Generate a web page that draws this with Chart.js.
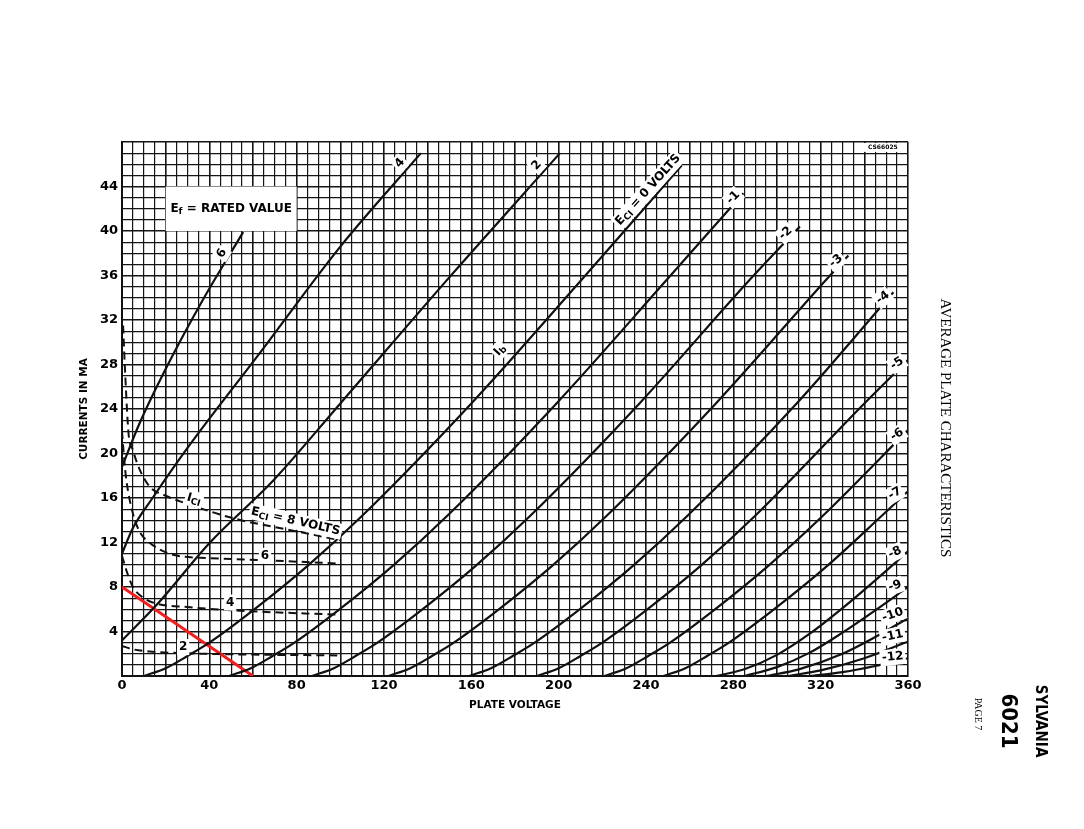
<!DOCTYPE html>
<html>
<head>
<meta charset="utf-8">
<script src="https://cdn.jsdelivr.net/npm/chart.js@4.4.1/dist/chart.umd.min.js"></script>
<style>
  html, body { margin: 0; padding: 0; background: #fff; }
</style>
</head>
<body>
<canvas id="plate" width="1084" height="829"></canvas>
<script>
// plate current (mA) against plate voltage, one curve per grid voltage Ec1
const ecPlus6 = [[0,18.8],[8,22.7],[20,27.6],[37,33.8],[55.5,39.9]];
const ecPlus4 = [[0,11],[5,13.3],[14,16],[30,20.5],[63,29],[100,38.6],[136.9,47]];
const ecPlus2 = [[0,3.2],[15.9,6.4],[40.3,12],[69.4,17.6],[100,24.5],[150.2,35.9],[200.6,47]];
const ecZero  = [[10,0],[20,0.7],[30,1.8],[40,3.0],[60,5.9],[85,9.9],[110,14.4],[160,24.5],[210,35.5],[256.4,45.9]];
const ecNeg1  = [[49,0],[59,0.7],[69,1.8],[79,3.0],[99,5.9],[124,9.9],[149,14.4],[199,24.5],[249,35.5],[284.6,43.4]];
const ecNeg2  = [[87,0],[97,0.7],[107,1.8],[117,3.0],[137,5.9],[162,9.9],[187,14.4],[237,24.5],[287,35.5],[310.5,40.4]];
const ecNeg3  = [[122,0],[132,0.7],[142,1.8],[152,3.0],[172,5.9],[197,9.9],[222,14.4],[272,24.5],[322,35.5],[332.7,37.8]];
const ecNeg4  = [[159,0],[169,0.7],[179,1.8],[189,3.0],[209,5.9],[234,9.9],[259,14.4],[309,24.5],[353.3,34.5]];
const ecNeg5  = [[190,0],[200,0.7],[210,1.8],[220,3.0],[240,5.9],[265,9.9],[290,14.4],[340,24.5],[360,28.4]];
const ecNeg6  = [[221,0],[231,0.7],[241,1.8],[251,3.0],[271,5.9],[296,9.9],[321,14.4],[360,22.1]];
const ecNeg7  = [[248,0],[258,0.7],[268,1.8],[278,3.0],[298,5.9],[323,9.9],[348,14.4],[360,16.6]];
const ecNeg8  = [[272,0],[285,0.6],[300,1.9],[315,3.8],[330,6.1],[345,8.6],[360,11.2]];
const ecNeg9  = [[285,0],[300,0.8],[315,2.1],[330,3.9],[345,5.9],[360,8.0]];
const ecNeg10 = [[295,0],[310,0.6],[330,2.0],[345,3.5],[360,5.2]];
const ecNeg11 = [[305,0],[320,0.5],[340,1.6],[360,3.1]];
const ecNeg12 = [[315,0],[330,0.35],[345,0.9],[360,1.6]];

// grid current Ic1 (dashed) for positive grid voltages
const ic8 = [[0.5,31.5],[1.5,27],[3,21.8],[5,20.3],[8,18.6],[12.8,17],[20,16.2],[26.6,15.7],[52.5,14.1],[75,13.2],[100,12.2]];
const ic6 = [[0,22],[1,19.5],[2,17.6],[5,14.6],[8,13],[11.3,12.2],[23.4,10.9],[40,10.6],[66,10.4],[100,10.1]];
const ic4 = [[0,10.8],[2,9.5],[5,8.0],[10,7.0],[16,6.5],[30,6.2],[51,5.9],[100,5.5]];
const ic2 = [[0,2.7],[5,2.4],[12.8,2.2],[28,2.05],[50,1.95],[100,1.85]];

// red load line
const loadLine = [[0,8],[60,0]];

const plateCurves = [ecPlus6, ecPlus4, ecPlus2, ecZero, ecNeg1, ecNeg2, ecNeg3, ecNeg4,
  ecNeg5, ecNeg6, ecNeg7, ecNeg8, ecNeg9, ecNeg10, ecNeg11, ecNeg12];
const gridCurves = [ic8, ic6, ic4, ic2];

// axis ticks
const xLabelTicks = [0,40,80,120,160,200,240,280,320,360];
const yLabelTicks = [4,8,12,16,20,24,28,32,36,40,44];

// curve labels: text, volts, mA, angle
const curveTags = [
  ['6', 45.8, 38.0, -60],
  ['4', 127.3, 46.1, -49],
  ['2', 190, 45.9, -48],
  ['E_{CI} = 0 VOLTS', 241, 43.7, -48],
  ['I_{b}', 173, 29.3, -48],
  ['-1', 280, 43.0, -45],
  ['-2', 304, 39.8, -42],
  ['-3', 327, 37.3, -40],
  ['-4', 348.5, 34.0, -38],
  ['-5', 355, 28.1, -33],
  ['-6', 355, 21.7, -33],
  ['-7', 354, 16.4, -30],
  ['-8', 354, 11.1, -25],
  ['-9', 354, 8.1, -20],
  ['-10', 353, 5.5, -20],
  ['-11', 353, 3.6, -12],
  ['-12', 353, 1.7, -6],
  ['I_{CI}', 33, 15.9, 16],
  ['E_{CI} = 8 VOLTS', 79.5, 13.9, 13],
  ['6', 65.5, 10.8, 0],
  ['4', 49.5, 6.6, 0],
  ['2', 28, 2.6, 0]
];

const toXY = pts => pts.map(p => ({x: p[0], y: p[1]}));

const datasets = [];
plateCurves.forEach(c => datasets.push({
  data: toXY(c), showLine: true, borderColor: '#111', borderWidth: 2.2,
  pointRadius: 0, cubicInterpolationMode: 'monotone'
}));
gridCurves.forEach(c => datasets.push({
  data: toXY(c), showLine: true, borderColor: '#111', borderWidth: 2,
  borderDash: [8, 5], pointRadius: 0, cubicInterpolationMode: 'monotone'
}));
datasets.push({
  data: toXY(loadLine), showLine: true, borderColor: '#f21d1d', borderWidth: 3, pointRadius: 0
});

const LABEL_FONT = 'bold 12px "DejaVu Sans"';
const SUB_FONT = 'bold 9px "DejaVu Sans"';

// draw text with _{sub} parts, centred at 0,0
function richText(ctx, str, bg) {
  const parts = [];
  const re = /_\{([^}]*)\}/g;
  let last = 0, m;
  while ((m = re.exec(str))) {
    if (m.index > last) parts.push({t: str.slice(last, m.index), sub: false});
    parts.push({t: m[1], sub: true});
    last = re.lastIndex;
  }
  if (last < str.length) parts.push({t: str.slice(last), sub: false});
  let w = 0;
  parts.forEach(p => { ctx.font = p.sub ? SUB_FONT : LABEL_FONT; p.w = ctx.measureText(p.t).width; w += p.w; });
  if (bg) {
    ctx.fillStyle = '#fff';
    ctx.fillRect(-w / 2 - 2, -8, w + 4, 16);
  }
  ctx.fillStyle = '#000';
  ctx.textBaseline = 'middle';
  ctx.textAlign = 'left';
  let x = -w / 2;
  parts.forEach(p => {
    ctx.font = p.sub ? SUB_FONT : LABEL_FONT;
    ctx.fillText(p.t, x, p.sub ? 3 : 0);
    x += p.w;
  });
}

const annotate = {
  id: 'annotate',
  afterDatasetsDraw(chart) {
    const {ctx, scales: {x, y}} = chart;
    curveTags.forEach(([t, v, i, a]) => {
      ctx.save();
      ctx.translate(x.getPixelForValue(v), y.getPixelForValue(i));
      ctx.rotate(a * Math.PI / 180);
      richText(ctx, t, true);
      ctx.restore();
    });
    // Ef box
    const x0 = x.getPixelForValue(20), x1 = x.getPixelForValue(80);
    const y0 = y.getPixelForValue(44), y1 = y.getPixelForValue(40);
    ctx.save();
    ctx.fillStyle = '#fff';
    ctx.fillRect(x0, y0, x1 - x0, y1 - y0);
    ctx.translate((x0 + x1) / 2, (y0 + y1) / 2);
    richText(ctx, 'E_{f} = RATED VALUE', false);
    ctx.restore();
    // drawing number
    const c0 = x.getPixelForValue(337), c1 = x.getPixelForValue(360);
    const r0 = y.getPixelForValue(48), r1 = y.getPixelForValue(47.2);
    ctx.save();
    ctx.fillStyle = '#fff';
    ctx.fillRect(c0, r0 + 1, c1 - c0 - 1, r1 - r0);
    ctx.fillStyle = '#000';
    ctx.font = 'bold 6px "DejaVu Sans"';
    ctx.textAlign = 'center';
    ctx.textBaseline = 'middle';
    ctx.fillText('CS66025', (c0 + c1) / 2, (r0 + r1) / 2 + 1);
    ctx.restore();
  },
  afterDraw(chart) {
    const ctx = chart.ctx;
    const side = [
      ['AVERAGE PLATE CHARACTERISTICS', 945, 428, '15px "Liberation Serif"'],
      ['PAGE 7', 978, 714, '10px "Liberation Serif"'],
      ['6021', 1008, 721, 'bold 22px "Liberation Sans Narrow", "DejaVu Sans Condensed"'],
      ['SYLVANIA', 1040, 721, 'bold 15px "Liberation Sans Narrow", "DejaVu Sans Condensed"']
    ];
    side.forEach(([t, px, py, f]) => {
      ctx.save();
      ctx.translate(px, py);
      ctx.rotate(Math.PI / 2);
      ctx.font = f;
      ctx.fillStyle = '#000';
      ctx.textAlign = 'center';
      ctx.textBaseline = 'middle';
      ctx.fillText(t, 0, 0);
      ctx.restore();
    });
  }
};

new Chart(document.getElementById('plate'), {
  type: 'scatter',
  data: { datasets },
  plugins: [annotate],
  options: {
    responsive: false,
    animation: false,
    devicePixelRatio: 1,
    layout: { padding: { left: 78, top: 142, right: 176, bottom: 113 } },
    plugins: { legend: { display: false }, tooltip: { enabled: false } },
    scales: {
      x: {
        type: 'linear', min: 0, max: 360,
        afterFit: s => { s.height = 40; },
        ticks: {
          stepSize: 5, autoSkip: false, maxRotation: 0, padding: 2, color: '#000',
          font: { family: 'DejaVu Sans', weight: 'bold', size: 13 },
          callback: v => xLabelTicks.includes(v) ? String(v) : ''
        },
        grid: {
          color: '#151515', drawTicks: false,
          lineWidth: c => (c.tick && c.tick.value % 20 === 0) ? 1.6 : 1.2
        },
        border: { color: '#111', width: 2 },
        title: {
          display: true, text: 'PLATE VOLTAGE', color: '#000',
          font: { family: 'DejaVu Sans', weight: 'bold', size: 10.5 },
          padding: { top: 0, bottom: 4 }
        }
      },
      y: {
        type: 'linear', min: 0, max: 48,
        afterFit: s => { s.width = 44; },
        ticks: {
          stepSize: 1, autoSkip: false, padding: 4, color: '#000',
          font: { family: 'DejaVu Sans', weight: 'bold', size: 13 },
          callback: v => yLabelTicks.includes(v) ? String(v) : ''
        },
        grid: {
          color: '#151515', drawTicks: false,
          lineWidth: c => (c.tick && c.tick.value % 4 === 0) ? 1.6 : 1.2
        },
        border: { color: '#111', width: 2 },
        title: {
          display: true, text: 'CURRENTS IN MA', color: '#000',
          font: { family: 'DejaVu Sans', weight: 'bold', size: 10.5 },
          padding: { top: 0, bottom: 0 }
        }
      }
    }
  }
});
</script>
</body>
</html>
